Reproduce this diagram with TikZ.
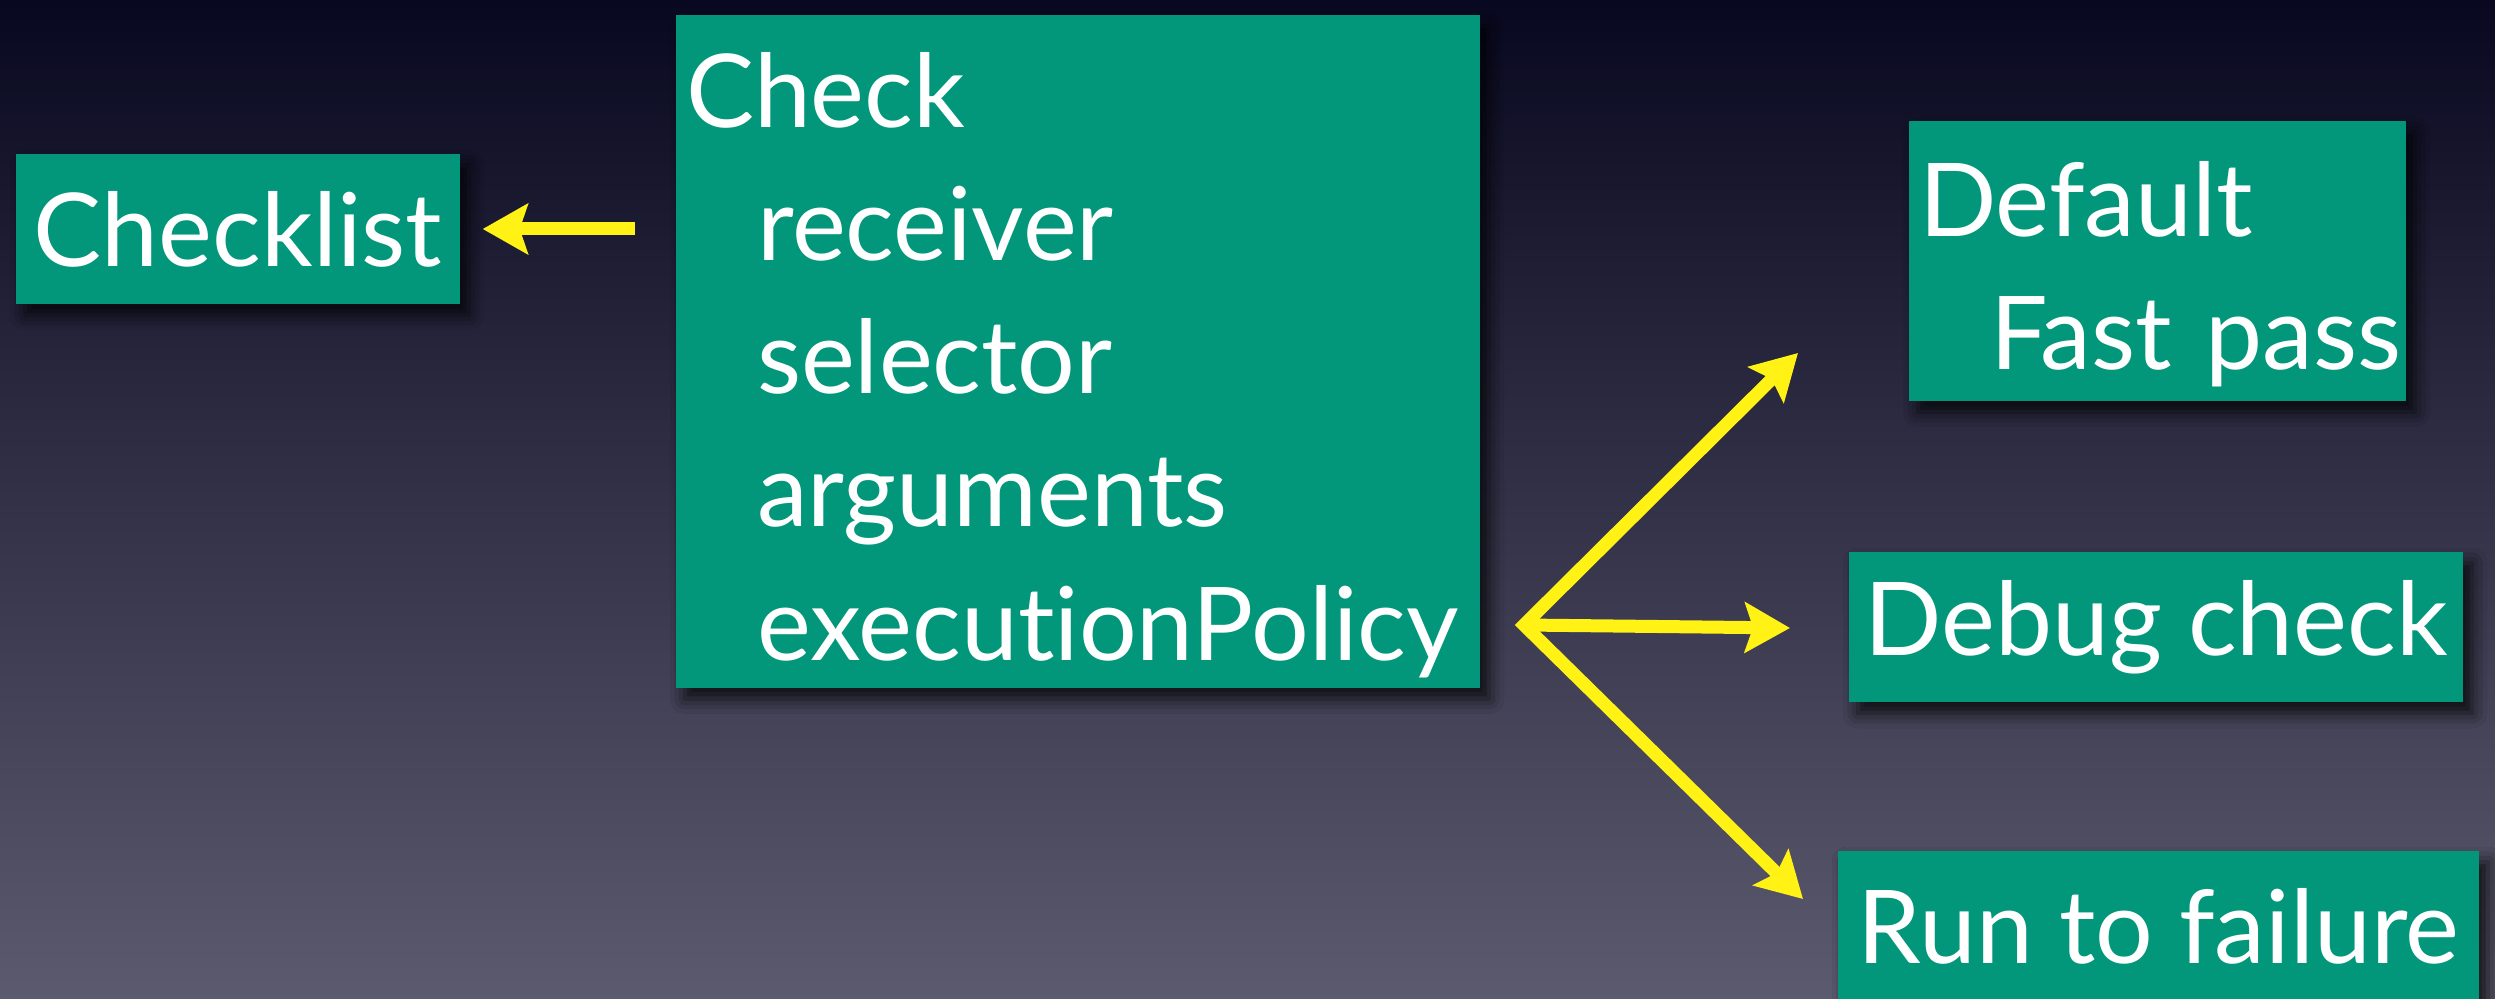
\documentclass[tikz,border=0pt]{standalone}
\usepackage{fontspec}
\setmainfont{Lato}[Ligatures=NoCommon]
\usetikzlibrary{arrows.meta}
\usetikzlibrary{shadows.blur}

\definecolor{cardgreen}{RGB}{2,151,122}
\definecolor{linkyellow}{RGB}{255,242,20}
\definecolor{bgtop}{RGB}{8,8,32}
\definecolor{bgbottom}{RGB}{92,90,110}

\newcommand{\indentline}{\hspace*{0.71cm}}
\newcommand{\topline}{\rule{0pt}{1em}}

\begin{document}
\begin{tikzpicture}[
		x=0.1mm, y=-0.1mm,
		>={Stealth[length=4.5mm, width=5mm, inset=0.8mm]},
		card/.style={fill=cardgreen, text=white, inner sep=1mm,
			font=\fontsize{29pt}{37.9pt}\selectfont,
			blur shadow={shadow xshift=0.9mm, shadow yshift=-1.1mm,
				shadow blur radius=1.5mm, shadow opacity=80}},
		link/.style={draw=linkyellow, line width=1.3mm}
	]

		% Background
		\useasboundingbox (0,0) rectangle (2495,999);
		\shade[top color=bgtop, bottom color=bgbottom] (0,0) rectangle (2495,999);

		% Cards
		\node[card, minimum width=4.44cm, minimum height=1.5cm] (checklist) at (238,229) {Checklist};
		\node[card, text width=7.84cm, minimum height=6.71cm, align=left] (check) at (1078,351.5)
			{\topline Check\\ \indentline receiver\\ \indentline selector\\ \indentline arguments\\ \indentline executionPolicy};
		\node[card, text width=4.77cm, minimum height=2.8cm, align=left] (default) at (2157.5,261)
			{\topline Default\\ \indentline\mbox{Fast pass}};
		\node[card, minimum width=6.14cm, minimum height=1.5cm] (debug) at (2156,627) {Debug check};
		\node[card, minimum width=6.41cm, minimum height=1.5cm] (run) at (2158.5,926) {Run to failure};

		% Arrow ends
		\coordinate (fork) at (1524,625);
		\coordinate (toDefault) at (1798,353);
		\coordinate (toDebug) at (1790,628);
		\coordinate (toRun) at (1803,899);

		% Links
		\draw[link, ->, shorten <=4mm, shorten >=2.2mm] (check.west |- checklist.east) -- (checklist.east);
		\draw[link, <->] (toDefault) -- (fork) -- (toRun);
		\draw[link, ->] (fork) -- (toDebug);
	\end{tikzpicture}
\end{document}
